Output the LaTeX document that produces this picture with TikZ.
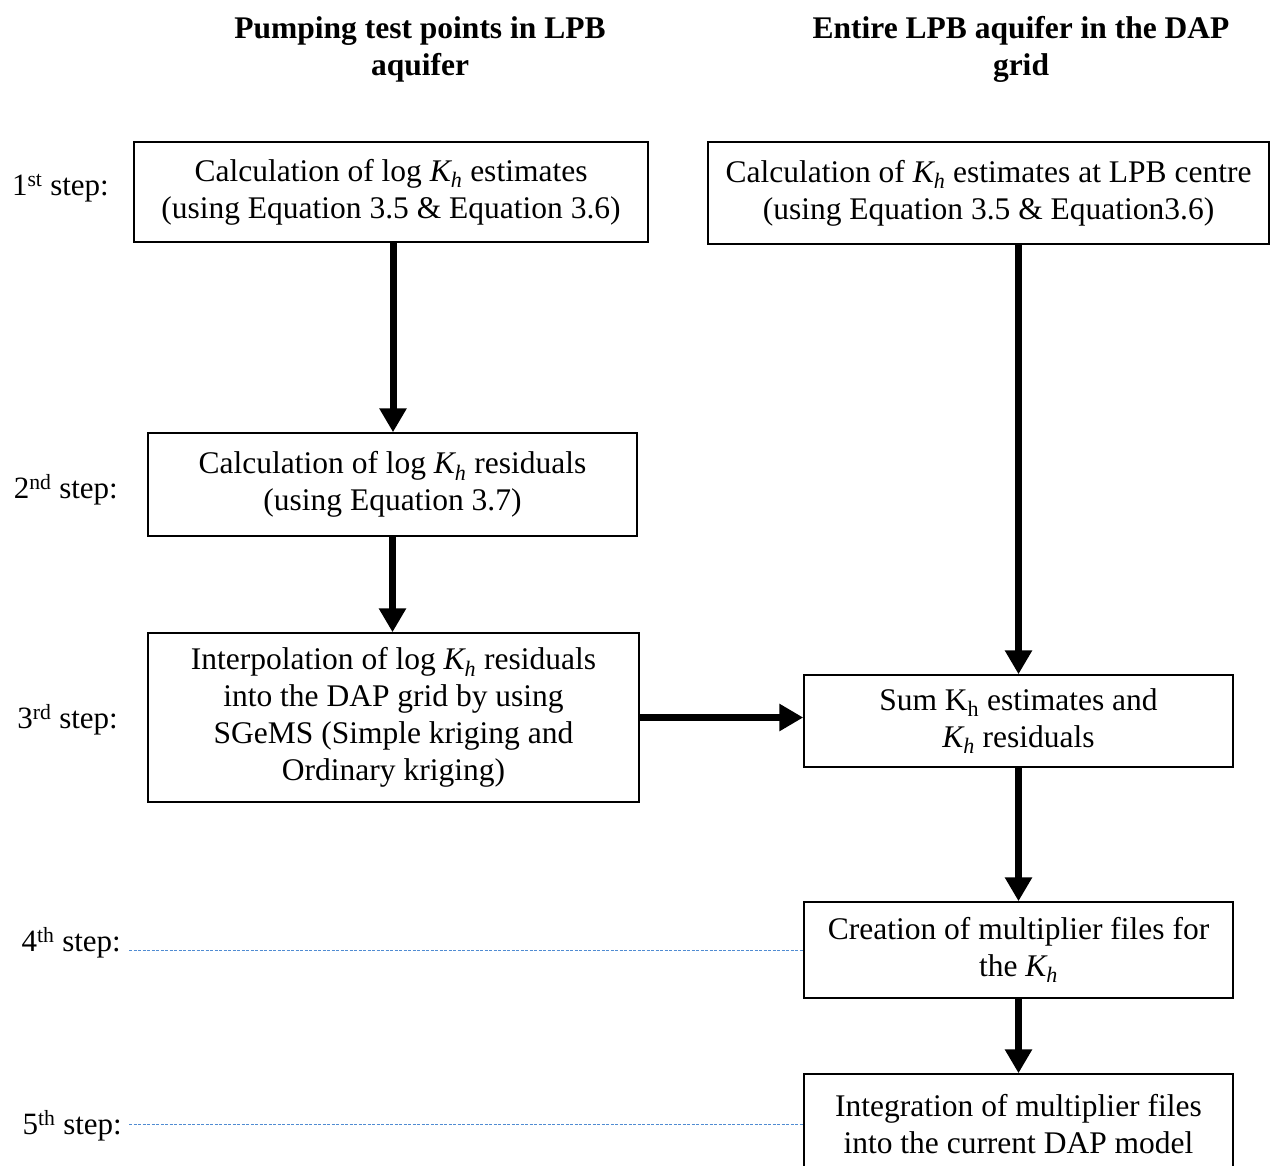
\documentclass[tikz,border=0pt]{standalone}
\usepackage{fontspec}
\setmainfont{Liberation Serif}
\usetikzlibrary{arrows.meta,calc}
\definecolor{dashblue}{RGB}{80,140,210}
\tikzset{
  box/.style={draw=black, line width=1.5pt, align=center, inner sep=0pt, font=\fontsize{31.5}{37}\selectfont},
  flow/.style={line width=7pt, -{Triangle[length=24pt,width=26pt]}},
  steplabel/.style={anchor=east, inner sep=0pt, font=\fontsize{31}{37}\selectfont},
  header/.style={align=center, font=\fontsize{31.5}{37}\selectfont\bfseries},
  guide/.style={draw=dashblue, line width=0.9pt, dash pattern=on 3pt off 1.5pt}
}
\newcommand{\Kh}{\textit{K\textsubscript{h}}}
\begin{document}
\begin{tikzpicture}[x=1pt,y=-1pt]
\useasboundingbox (0,0) rectangle (1271,1166);
\clip (0,0) rectangle (1271,1166);
% headers
\node[header] (h1) at (420,49) {Pumping test points in LPB\\aquifer};
\node[header] (h2) at (1021,49) {Entire LPB aquifer in the DAP\\grid};
% boxes
\node[box, minimum width=514pt, minimum height=100pt] (A1) at (391,192) {Calculation of log \Kh{} estimates\\(using Equation 3.5 \& Equation 3.6)};
\node[box, minimum width=561pt, minimum height=102pt] (B1) at (988.5,193) {Calculation of \Kh{} estimates at LPB centre\\(using Equation 3.5 \& Equation3.6)};
\node[box, minimum width=489pt, minimum height=103pt] (A2) at (392.5,484.5) {Calculation of log \Kh{} residuals\\(using Equation 3.7)};
\node[box, minimum width=491pt, minimum height=169pt] (A3) at (393.5,717.5) {Interpolation of log \Kh{} residuals\\into the DAP grid by using\\SGeMS (Simple kriging and\\Ordinary kriging)};
\node[box, minimum width=429pt, minimum height=92pt] (B3) at (1018.5,721) {Sum K\textsubscript{h} estimates and\\\Kh{} residuals};
\node[box, minimum width=429pt, minimum height=96pt] (B4) at (1018.5,950) {Creation of multiplier files for\\the \Kh};
\node[box, minimum width=429pt, minimum height=100pt] (B5) at (1018.5,1124) {Integration of multiplier files\\into the current DAP model};
% step labels
\node[steplabel] (s1) at (109,188) {1\textsuperscript{st} step:};
\node[steplabel] (s2) at (118,490) {2\textsuperscript{nd} step:};
\node[steplabel] (s3) at (118,720) {3\textsuperscript{rd} step:};
\node[steplabel] (s4) at (121,943) {4\textsuperscript{th} step:};
\node[steplabel] (s5) at (122,1126) {5\textsuperscript{th} step:};
% arrows
\draw[flow] ($(A1.south)+(2,0)$) -- ($(A1.south |- A2.north)+(2,0)$);
\draw[flow] (A2.south) -- (A2.south |- A3.north);
\draw[flow] (A3.east) -- (A3.east -| B3.west);
\draw[flow] (B3.north |- B1.south) -- (B3.north);
\draw[flow] (B3.south) -- (B4.north);
\draw[flow] (B4.south) -- (B5.north);
% guide lines
\draw[guide] ($(s4.east |- B4.west)+(8,0)$) -- (B4.west);
\draw[guide] ($(s5.east |- B5.west)+(7,0)$) -- (B5.west);
\end{tikzpicture}
\end{document}
